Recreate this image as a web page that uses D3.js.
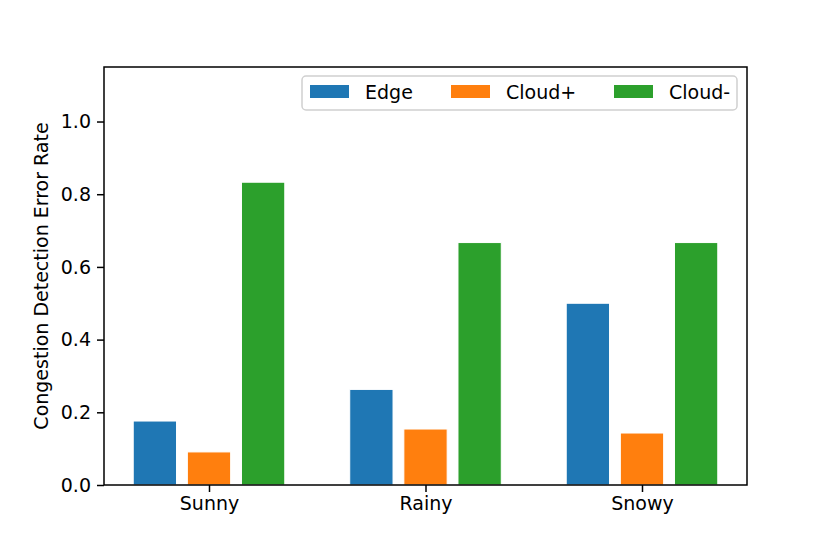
<!DOCTYPE html>
<meta charset="utf-8">
<head>
	<title>Congestion Detection Error Rate</title>
	<script src="https://cdn.jsdelivr.net/npm/d3@7"></script>
	<style>
		body { margin: 0; background: #fff; }
		text { font-family: "DejaVu Sans", sans-serif; fill: #000; }
	</style>
</head>
<body>
	<svg id="chart" width="830" height="554"></svg>
	<script>
		// data
		var weather = ["Sunny", "Rainy", "Snowy"];
		var series = ["Edge", "Cloud+", "Cloud-"];
		var edgeVals = [0.176, 0.263, 0.5];
		var cloudPlusVals = [0.091, 0.154, 0.143];
		var cloudMinusVals = [0.833, 0.667, 0.667];
		var yTicks = [0.0, 0.2, 0.4, 0.6, 0.8, 1.0];
		var colors = ["#1f77b4", "#ff7f0e", "#2ca02c"];

		var values = [edgeVals, cloudPlusVals, cloudMinusVals];

		var margin = { top: 67, right: 83, bottom: 69, left: 104 },
			W = 830, H = 554,
			w = W - margin.left - margin.right,
			h = H - margin.top - margin.bottom,
			fs = 19;

		var svg = d3.select("#chart");
		var g = svg.append("g")
			.attr("transform", "translate(" + margin.left + "," + margin.top + ")");

		// matplotlib-like linear x: categories at 0,1,2, bars width 0.2 offset 0.25
		var x = d3.scaleLinear().domain([-0.485, 2.485]).range([0, w]);
		var y = d3.scaleLinear().domain([0, 1.15]).range([h, 0]);
		var bw = 0.2, off = 0.25;

		series.forEach(function (s, si) {
			g.append("g")
				.selectAll("rect")
				.data(values[si])
				.enter()
				.append("rect")
				.attr("x", function (d, i) { return x(i + (si - 1) * off - bw / 2); })
				.attr("width", x(bw) - x(0))
				.attr("y", function (d) { return y(d); })
				.attr("height", function (d) { return y(0) - y(d); })
				.attr("fill", colors[si])
				.attr("stroke", "#fff")
				.attr("stroke-width", 1);
		});

		// axes
		var yAxis = d3.axisLeft(y).tickValues(yTicks).tickFormat(d3.format(".1f")).tickSizeOuter(0).tickSize(7).tickPadding(6);
		var xAxis = d3.axisBottom(x).tickValues(d3.range(weather.length))
			.tickFormat(function (d) { return weather[d]; }).tickSizeOuter(0).tickSize(7).tickPadding(5);

		var ya = g.append("g").call(yAxis);
		var xa = g.append("g").attr("transform", "translate(0," + h + ")").call(xAxis);
		[ya, xa].forEach(function (a) {
			a.select(".domain").remove();
			a.selectAll("line").attr("stroke", "#000").attr("stroke-width", 1.5);
			a.selectAll("text").attr("font-size", fs).attr("font-family", "DejaVu Sans").attr("fill", "#000");
		});

		// frame
		g.append("rect")
			.attr("x", 0).attr("y", 0)
			.attr("width", w).attr("height", h)
			.attr("fill", "none")
			.attr("stroke", "#000")
			.attr("stroke-width", 1.5);

		// y label
		g.append("text")
			.attr("transform", "translate(" + (-56) + "," + (h / 2) + ") rotate(-90)")
			.attr("text-anchor", "middle")
			.attr("font-size", fs)
			.text("Congestion Detection Error Rate");

		// legend
		var lg = g.append("g").attr("transform", "translate(" + (w - 445) + ",9)");
		lg.append("rect")
			.attr("width", 435).attr("height", 34)
			.attr("rx", 4).attr("ry", 4)
			.attr("fill", "#fff").attr("fill-opacity", 0.8)
			.attr("stroke", "#d0d0d0").attr("stroke-width", 1.5);
		var item = lg.selectAll("g.item")
			.data(series)
			.enter()
			.append("g")
			.attr("class", "item")
			.attr("transform", function (d, i) { return "translate(" + [8, 149, 312][i] + ",0)"; });
		item.append("rect")
			.attr("y", 9).attr("width", 39).attr("height", 13)
			.attr("fill", function (d, i) { return colors[i]; });
		item.append("text")
			.attr("x", 55).attr("y", 23)
			.attr("font-size", fs)
			.text(function (d) { return d; });
	</script>
</body>
